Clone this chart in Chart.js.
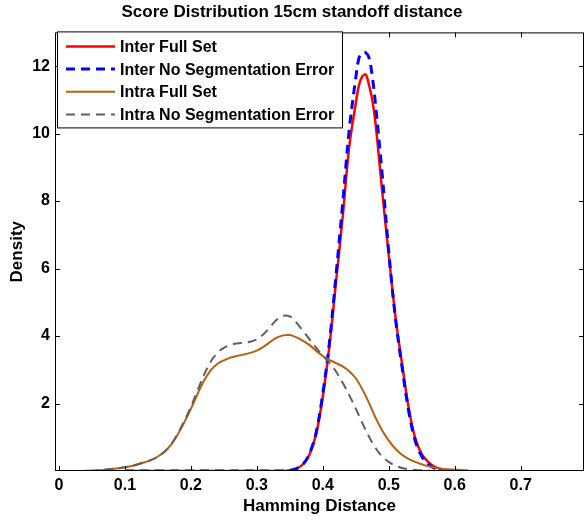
<!DOCTYPE html>
<html>
<head>
<meta charset="utf-8">
<script src="https://cdn.jsdelivr.net/npm/chart.js@4.4.1/dist/chart.umd.min.js"></script>
<style>
  html, body { margin: 0; padding: 0; background: #fff; }
  canvas { display: block; }
</style>
</head>
<body>
<canvas id="chart" width="584" height="521"></canvas>
<script>
// tick labels
const xTicks = [0, 0.1, 0.2, 0.3, 0.4, 0.5, 0.6, 0.7];
const yTicks = [2, 4, 6, 8, 10, 12];

// inter-class score densities
const interX = [0.10, 0.15, 0.20, 0.25, 0.30, 0.34, 0.35, 0.36, 0.37, 0.38, 0.39, 0.40, 0.41, 0.42, 0.43, 0.44,
  0.45, 0.455, 0.46, 0.465, 0.47, 0.475, 0.48, 0.49, 0.50, 0.51, 0.52, 0.53, 0.54, 0.55, 0.56, 0.57, 0.58, 0.59, 0.60];
const interFull = [0, 0, 0, 0, 0, 0, 0.02, 0.07, 0.2, 0.5, 1.1, 2.2, 3.7, 5.6, 7.5, 9.6,
  10.9, 11.45, 11.7, 11.75, 11.45, 11.0, 10.3, 8.3, 6.4, 4.6, 3.2, 1.9, 0.98, 0.5, 0.26, 0.12, 0.05, 0.02, 0];
const interNoSeg = [0, 0, 0, 0, 0, 0, 0.02, 0.07, 0.2, 0.52, 1.15, 2.3, 3.8, 5.8, 7.9, 10.1,
  11.65, 12.25, 12.4, 12.4, 12.25, 11.7, 10.85, 8.8, 6.5, 4.55, 3.1, 1.8, 0.9, 0.44, 0.2, 0.08, 0.03, 0, 0];

// intra-class score densities
const intraX = [0.00, 0.01, 0.02, 0.03, 0.04, 0.05, 0.06, 0.07, 0.08, 0.09, 0.10, 0.11, 0.12, 0.13, 0.14, 0.15,
  0.16, 0.17, 0.18, 0.19, 0.20, 0.21, 0.22, 0.23, 0.24, 0.25, 0.26, 0.27, 0.28, 0.29, 0.30, 0.31,
  0.32, 0.33, 0.34, 0.35, 0.36, 0.37, 0.38, 0.39, 0.40, 0.41, 0.42, 0.43, 0.44, 0.45, 0.46, 0.47,
  0.48, 0.49, 0.50, 0.51, 0.52, 0.53, 0.54, 0.55, 0.56, 0.57, 0.58, 0.59, 0.60, 0.61, 0.62];
const intraFull = [0, 0, 0, 0, 0.005, 0.01, 0.02, 0.04, 0.06, 0.08, 0.11, 0.15, 0.2, 0.26, 0.33, 0.43,
  0.57, 0.78, 1.08, 1.44, 1.84, 2.28, 2.68, 2.98, 3.17, 3.28, 3.36, 3.41, 3.45, 3.5, 3.57, 3.68,
  3.82, 3.95, 4.02, 4.03, 3.96, 3.86, 3.73, 3.56, 3.41, 3.29, 3.2, 3.1, 2.96, 2.75, 2.42, 2.02,
  1.58, 1.2, 0.9, 0.66, 0.48, 0.36, 0.27, 0.2, 0.14, 0.1, 0.07, 0.05, 0.04, 0.03, 0.02];
const intraNoSeg = [0, 0, 0, 0, 0.005, 0.01, 0.02, 0.04, 0.06, 0.08, 0.11, 0.15, 0.2, 0.26, 0.33, 0.43,
  0.57, 0.78, 1.1, 1.48, 1.9, 2.38, 2.85, 3.24, 3.5, 3.65, 3.74, 3.78, 3.8, 3.83, 3.9, 4.05,
  4.26, 4.48, 4.6, 4.58, 4.4, 4.15, 3.9, 3.65, 3.42, 3.21, 2.95, 2.62, 2.25, 1.85, 1.42, 1.02,
  0.68, 0.43, 0.27, 0.16, 0.09, 0.05, 0.03, 0.02, 0.01, 0, 0, 0, 0, 0, 0];

const pts = (xs, ys) => xs.map((x, i) => ({ x: x, y: ys[i] }));

// box, inward ticks and the in-plot legend (MATLAB look)
const matlabFrame = {
  id: 'matlabFrame',
  afterDatasetsDraw(chart) {
    const { ctx, chartArea: a, scales } = chart;
    const tl = 5;
    ctx.save();
    ctx.strokeStyle = '#000';
    ctx.lineWidth = 1;
    ctx.strokeRect(a.left + 0.5, a.top + 0.5, a.width - 1, a.height - 1);
    ctx.beginPath();
    xTicks.forEach(v => {
      const px = Math.round(scales.x.getPixelForValue(v)) + 0.5;
      ctx.moveTo(px, a.bottom); ctx.lineTo(px, a.bottom - tl);
      ctx.moveTo(px, a.top); ctx.lineTo(px, a.top + tl);
    });
    yTicks.forEach(v => {
      const py = Math.round(scales.y.getPixelForValue(v)) + 0.5;
      ctx.moveTo(a.left, py); ctx.lineTo(a.left + tl, py);
      ctx.moveTo(a.right, py); ctx.lineTo(a.right - tl, py);
    });
    ctx.stroke();

    // legend box
    const bx = a.left + 2, by = a.top - 1, bw = 285, bh = 96;
    ctx.fillStyle = '#fff';
    ctx.fillRect(bx, by, bw, bh);
    ctx.strokeRect(bx + 0.5, by + 0.5, bw, bh);
    ctx.font = 'bold 16px "Liberation Sans", Arial, sans-serif';
    ctx.textBaseline = 'middle';
    chart.data.datasets.forEach((ds, i) => {
      const y = by + 15 + i * 22.7;
      ctx.strokeStyle = ds.borderColor;
      ctx.lineWidth = ds.borderWidth;
      ctx.setLineDash(ds.borderDash || []);
      ctx.beginPath();
      ctx.moveTo(bx + 9, y); ctx.lineTo(bx + 58, y);
      ctx.stroke();
      ctx.setLineDash([]);
      ctx.fillStyle = '#000';
      ctx.fillText(ds.label, bx + 63, y + 1);
    });
    ctx.restore();
  }
};

new Chart(document.getElementById('chart'), {
  type: 'line',
  data: {
    datasets: [
      { label: 'Inter Full Set', data: pts(interX, interFull), borderColor: '#ff0000', borderWidth: 2.5, order: 4 },
      { label: 'Inter No Segmentation Error', data: pts(interX, interNoSeg), borderColor: '#0000ff', borderWidth: 3, borderDash: [9, 6], order: 3 },
      { label: 'Intra Full Set', data: pts(intraX, intraFull), borderColor: '#b8600f', borderWidth: 2, order: 2 },
      { label: 'Intra No Segmentation Error', data: pts(intraX, intraNoSeg), borderColor: '#5f5f5f', borderWidth: 2, borderDash: [9, 6], order: 1 }
    ]
  },
  options: {
    responsive: false,
    animation: false,
    layout: { padding: 0 },
    elements: {
      point: { radius: 0 },
      line: { tension: 0.35, fill: false }
    },
    plugins: {
      legend: { display: false },
      tooltip: { enabled: false },
      title: {
        display: true,
        text: 'Score Distribution 15cm standoff distance',
        color: '#000',
        font: { family: '"Liberation Sans", Arial, sans-serif', size: 17, weight: 'bold' },
        padding: { top: 2, bottom: 10 }
      }
    },
    scales: {
      x: {
        type: 'linear',
        min: -0.006,
        max: 0.796,
        afterBuildTicks: s => { s.ticks = xTicks.map(v => ({ value: v })); },
        afterFit: s => { s.height = 50; },
        grid: { display: false, drawTicks: false },
        border: { display: false },
        ticks: {
          color: '#000',
          padding: 5,
          maxRotation: 0,
          font: { family: '"Liberation Sans", Arial, sans-serif', size: 16, weight: 'bold' },
          callback: v => String(v)
        },
        title: {
          display: true,
          text: 'Hamming Distance',
          color: '#000',
          font: { family: '"Liberation Sans", Arial, sans-serif', size: 17, weight: 'bold' },
          padding: { top: 0, bottom: 4 }
        }
      },
      y: {
        type: 'linear',
        min: 0,
        max: 13,
        afterBuildTicks: s => { s.ticks = yTicks.map(v => ({ value: v })); },
        afterFit: s => { s.width = 55; },
        grid: { display: false, drawTicks: false },
        border: { display: false },
        ticks: {
          color: '#000',
          padding: 5,
          font: { family: '"Liberation Sans", Arial, sans-serif', size: 16, weight: 'bold' }
        },
        title: {
          display: true,
          text: 'Density',
          color: '#000',
          font: { family: '"Liberation Sans", Arial, sans-serif', size: 17, weight: 'bold' },
          padding: { top: 7, bottom: 0 }
        }
      }
    }
  },
  plugins: [matlabFrame]
});
</script>
</body>
</html>
